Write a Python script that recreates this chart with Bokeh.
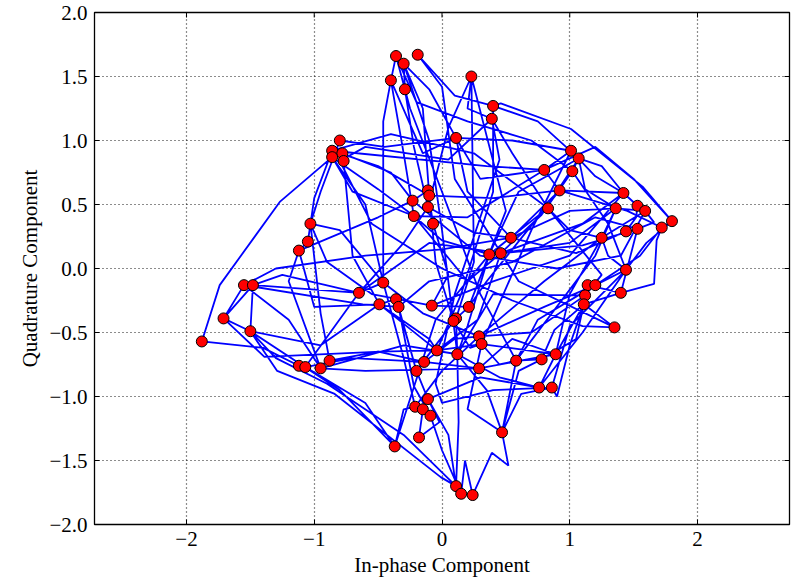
import math
from bokeh.plotting import figure
from bokeh.models import FixedTicker
from bokeh.embed import file_html
from bokeh.resources import INLINE

# Symbol samples (red dots): in-phase and quadrature
sym_i = [-0.36, -0.30, -0.19, -0.40, -0.29, 0.23, 0.40, 0.39, 0.11, -0.80,
         -0.86, -0.78, -0.86, -0.77, -0.11, -0.10, -0.23, -0.11, -0.22, -0.07,
         -1.03, -1.05, -1.12, 1.01, 1.07, 0.80, 1.02, 0.92, 1.42, 0.83,
         1.36, 1.53, 1.59, 1.80, 1.72, 1.53, 1.44, 1.25, 0.54, 0.37,
         0.46, 1.44, 1.14, 1.20, 1.12, 1.11, 1.40, 1.35, -1.55, -1.48,
         -1.71, -1.50, -1.88, -0.65, -0.46, -0.49, -0.36, -0.34, -0.08, 0.21,
         0.11, 0.09, 0.29, 0.31, -0.04, 0.12, -0.14, -0.20, 0.29, 0.58,
         0.78, 0.89, 0.76, 0.86, -1.12, -1.07, -0.95, -0.88, -0.11, -0.21,
         -0.15, -0.09, -0.18, -0.37, 0.47, 0.11, 0.15, 0.24]
sym_q = [1.66, 1.60, 1.67, 1.47, 1.40, 1.50, 1.27, 1.17, 1.02, 1.00,
         0.92, 0.90, 0.87, 0.84, 0.61, 0.57, 0.53, 0.48, 0.41, 0.35,
         0.35, 0.21, 0.14, 0.92, 0.86, 0.77, 0.76, 0.61, 0.59, 0.47,
         0.47, 0.49, 0.45, 0.37, 0.32, 0.31, 0.29, 0.24, 0.24, 0.11,
         0.12, -0.01, -0.13, -0.13, -0.21, -0.28, -0.19, -0.46, -0.13, -0.13,
         -0.39, -0.49, -0.57, -0.19, -0.11, -0.28, -0.24, -0.30, -0.29, -0.30,
         -0.39, -0.41, -0.53, -0.59, -0.64, -0.67, -0.73, -0.80, -0.78, -0.72,
         -0.71, -0.67, -0.93, -0.93, -0.76, -0.77, -0.78, -0.72, -1.02, -1.08,
         -1.10, -1.15, -1.32, -1.39, -1.28, -1.70, -1.76, -1.77]

# Signal trajectory (blue line): (in-phase, quadrature) vertices
path_points = [
    (-0.36, 1.66), (-0.40, 1.47), (-0.46, 1.15), (-0.46, -0.11), (-0.65, -0.19), (-1.25, -0.05),
    (-1.48, -0.13), (-1.50, -0.49), (-1.29, -0.80), (-0.84, -0.98), (-0.01, -1.63), (0.11, -1.70),
    (0.13, -1.20), (0.12, -0.67), (0.11, -0.39), (0.25, 0.05), (0.23, 1.50), (0.20, 1.25),
    (0.39, 1.17), (0.55, 0.90), (0.83, 0.47), (1.00, 0.30), (1.25, 0.24), (1.30, 0.10),
    (1.44, -0.01), (1.20, -0.13), (0.80, -0.30), (0.29, -0.53), (0.10, -0.55), (-0.14, -0.73),
    (-0.50, -0.65), (-0.88, -0.72), (-0.95, -0.35), (-1.03, 0.35), (-0.95, 0.60), (-0.80, 1.00),
    (-0.45, 0.95), (0.11, 1.02), (0.55, 1.00), (1.01, 0.92), (1.20, 0.72), (1.42, 0.59),
    (1.53, 0.49), (1.52, 0.40), (1.44, 0.29), (1.05, 0.12), (0.54, 0.24), (0.25, 0.28),
    (-0.11, 0.48), (-0.22, 0.95), (-0.29, 1.40), (-0.30, 1.60), (-0.15, 1.25), (-0.10, 0.57),
    (-0.05, 0.05), (0.09, -0.41), (0.22, -0.62), (0.31, -0.59), (0.45, -0.75), (0.58, -0.72),
    (0.78, -0.71), (0.88, -0.48), (1.11, -0.28), (1.00, -0.60), (0.90, -1.00), (0.86, -0.93),
    (0.62, -0.98), (0.47, -1.28), (0.52, -1.54), (0.39, -1.44), (0.24, -1.77), (0.18, -1.50),
    (0.15, -1.76), (0.00, -1.42), (-0.09, -1.15), (-0.22, -0.92), (-0.34, -0.30), (-0.62, -0.28),
    (-1.55, -0.13), (-1.71, -0.39), (-1.39, -0.69), (-0.48, -0.65), (-0.04, -0.64), (0.28, -0.40),
    (0.46, 0.12), (0.78, 0.42), (1.02, 0.76), (1.07, 0.86), (1.12, 0.62), (1.36, 0.47),
    (1.59, 0.45), (1.66, 0.36), (1.53, 0.31), (1.10, 0.18), (0.37, 0.11), (0.00, 0.22),
    (-0.22, 0.41), (-0.50, 0.62), (-0.86, 0.87), (-1.27, 0.52), (-1.74, -0.13), (-1.88, -0.57),
    (-1.40, -0.62), (-1.12, -0.76), (-1.07, -0.77), (-0.60, -1.05), (-0.37, -1.39), (-0.30, -1.10),
    (-0.21, -1.08), (-0.15, -1.10), (-0.18, -1.32), (-0.02, -1.20), (-0.11, -1.02), (-0.20, -0.80),
    (-0.30, -0.45), (-0.36, -0.24), (-0.49, -0.28), (-0.70, 0.10), (-0.77, 0.84), (-0.78, 0.90),
    (-0.40, 0.75), (-0.23, 0.53), (-0.11, 0.61), (-0.07, 0.35), (0.05, -0.05), (-0.08, -0.29),
    (0.21, -0.30), (0.35, -0.10), (0.92, 0.61), (0.80, 0.77), (0.35, 0.80), (-0.86, 0.92),
    (-1.00, 0.55), (-1.05, 0.21), (-1.12, 0.14), (-1.20, -0.10), (-0.95, -0.78), (-0.60, -0.80),
    (0.29, -0.78), (0.55, -0.55), (0.89, -0.67), (0.76, -0.93), (0.45, -0.85), (0.12, -0.67),
    (0.40, -0.20), (1.12, -0.21), (1.14, -0.13), (1.40, -0.19), (1.66, -0.12), (1.68, 0.22),
    (1.72, 0.32), (1.80, 0.37), (1.57, 0.64), (1.01, 1.09), (0.46, 1.29), (0.40, 1.27),
    (0.10, 1.35), (-0.19, 1.67), (0.00, 1.42), (0.10, 0.70), (0.60, -0.10), (1.35, -0.46),
    (1.10, -0.45), (0.55, -0.25), (0.00, 0.00), (-0.55, 0.35), (-0.80, 0.84), (-0.60, 0.95),
    (0.05, 0.85), (0.39, 1.17), (0.45, 0.85), (0.30, 0.40), (0.10, -0.20), (-0.05, -0.90),
    (0.00, -1.05), (0.40, -0.95), (0.86, -0.93), (1.00, -0.45), (1.44, -0.01), (1.30, 0.35),
    (1.02, 0.76), (0.70, 1.00), (0.20, 1.15), (-0.20, 1.30), (-0.36, 1.66), (-0.25, 1.25),
    (0.00, 0.60), (0.30, -0.20), (0.58, -0.72), (0.75, -0.40), (1.20, -0.13), (1.55, 0.10),
    (1.72, 0.32), (1.45, 0.45), (0.92, 0.61), (0.40, 0.55), (-0.10, 0.57), (-0.50, 0.80),
    (-0.86, 0.92), (-0.40, 1.05), (0.25, 0.90), (0.83, 0.47), (1.25, -0.05), (1.12, -0.21),
    (0.70, -0.50), (0.29, -0.53), (-0.15, -0.35), (-0.46, -0.11), (-0.80, 0.30), (-1.03, 0.35),
    (-0.90, 0.05), (-0.55, -0.20), (-0.08, -0.29), (0.40, -0.10), (1.00, 0.10), (1.42, 0.59),
    (1.25, 0.80), (1.07, 0.86), (0.60, 0.60), (0.37, 0.11), (0.20, -0.45), (0.12, -0.67),
    (-0.30, -0.60), (-0.95, -0.78), (-1.20, -0.40), (-1.55, -0.13), (-1.30, 0.00), (-0.60, 0.10),
    (0.00, 0.15), (0.54, 0.24), (1.00, 0.45), (1.36, 0.47), (1.00, 0.20), (0.46, 0.12),
    (0.20, -0.10), (-0.22, 0.41), (-0.30, 0.90), (-0.40, 1.47), (-0.15, 0.90), (0.11, 1.02),
    (0.30, 0.70), (0.80, 0.77), (1.01, 0.92), (0.70, 0.30), (0.31, -0.59), (0.20, -1.10),
    (0.47, -1.28), (0.60, -0.80), (0.78, -0.71), (1.05, -0.55), (1.11, -0.28), (1.40, -0.19),
    (1.53, 0.31), (1.20, 0.40), (0.55, 0.05), (-0.10, -0.10), (-0.34, -0.30), (-0.20, -0.80),
    (0.10, -0.40), (0.21, -0.30), (0.50, 0.45), (0.23, 1.50), (0.05, 1.10), (-0.11, 0.48),
    (-0.30, 0.20), (-0.65, -0.19), (-1.07, -0.77), (-0.70, -0.70), (-0.14, -0.73), (0.29, -0.78),
    (0.89, -0.67), (1.00, -0.20), (1.25, 0.24), (1.59, 0.45), (1.40, 0.10), (0.90, 0.00),
    (0.30, 0.10), (-0.23, 0.53), (-0.50, 0.40), (-1.12, 0.14), (-1.00, -0.30), (-0.49, -0.28),
    (-0.10, -0.55), (-0.04, -0.64), (0.15, -0.20), (0.40, 0.60), (0.40, 1.27),
    (0.75, 1.15), (1.07, 0.86), (0.80, 0.45), (0.37, 0.11), (-0.05, -0.40), (-0.37, -1.39),
    (-0.80, -0.95), (-1.50, -0.49), (-1.30, -0.70), (-0.90, -0.90), (-0.30, -1.30), (0.11, -1.70),
    (0.05, -1.30), (-0.11, -1.02), (0.30, -0.85), (0.76, -0.93), (1.10, -0.50), (1.44, -0.01),
    (1.60, 0.20), (1.80, 0.37), (1.50, 0.70), (1.20, 0.95), (0.80, 0.77), (0.20, 0.40),
    (-0.22, 0.41), (-0.70, 0.60), (-0.86, 0.87), (-0.60, 0.50), (-0.46, -0.11), (-0.30, -0.70),
    (-0.21, -1.08), (0.00, -0.80), (0.29, -0.53), (0.80, -0.10), (1.25, 0.24), (1.36, 0.47),
    (1.20, 0.10), (0.58, -0.72), (0.47, -1.28), (0.35, -0.95), (0.12, -0.67), (0.00, 0.30),
    (-0.10, 1.00), (-0.30, 1.60), (-0.10, 1.40), (0.11, 1.02), (0.20, 0.60), (0.54, 0.24),
    (0.92, 0.61), (1.42, 0.59), (1.10, 0.35), (0.46, 0.12), (-0.10, 0.20), (-0.65, -0.19),
    (-1.48, -0.13), (-1.71, -0.39), (-1.50, -0.49), (-0.95, -0.60), (-0.49, -0.28), (-0.04, -0.64),
    (0.31, -0.59), (0.89, -0.67), (1.11, -0.28), (1.35, -0.46),
]
path_i = [pt[0] for pt in path_points]
path_q = [pt[1] for pt in path_points]

x_ticks = [-2, -1, 0, 1, 2]
x_tick_labels = ["\u22122", "\u22121", "0", "1", "2"]
y_ticks = [-2.0, -1.5, -1.0, -0.5, 0.0, 0.5, 1.0, 1.5, 2.0]
y_tick_labels = ["\u22122.0", "\u22121.5", "\u22121.0", "\u22120.5", "0.0", "0.5", "1.0", "1.5", "2.0"]

X_RANGE = (-2.72, 2.72)
Y_RANGE = (-2.0, 2.0)

FONT = "Liberation Serif"
FS = "21px"

p = figure(width=800, height=581, x_range=X_RANGE, y_range=Y_RANGE,
           output_backend="svg", toolbar_location=None,
           min_border_left=94, min_border_right=11, min_border_top=12, min_border_bottom=57,
           background_fill_color="white", border_fill_color="white")

p.outline_line_color = "black"
p.outline_line_width = 1.3

for ax, ticks, labels in ((p.xaxis[0], x_ticks, x_tick_labels), (p.yaxis[0], y_ticks, y_tick_labels)):
    ax.ticker = FixedTicker(ticks=ticks)
    ax.major_label_overrides = {t: l for t, l in zip(ticks, labels)}
    ax.major_tick_in = 5
    ax.major_tick_out = 0
    ax.minor_tick_line_color = None
    ax.axis_line_color = "black"
    ax.major_label_text_font = FONT
    ax.major_label_text_font_size = FS
    ax.major_label_text_color = "black"
    ax.axis_label_text_font = FONT
    ax.axis_label_text_font_size = FS
    ax.axis_label_text_font_style = "normal"
    ax.axis_label_text_color = "black"
    ax.major_label_standoff = 7
    ax.axis_label_standoff = 4

p.xaxis[0].axis_label = "In-phase Component"
p.yaxis[0].axis_label = "Quadrature Component"

p.xgrid[0].ticker = FixedTicker(ticks=x_ticks)
p.ygrid[0].ticker = FixedTicker(ticks=y_ticks)
for g in (p.xgrid[0], p.ygrid[0]):
    g.grid_line_color = "black"
    g.grid_line_dash = "1 3"
    g.grid_line_width = 1.2
    g.grid_line_alpha = 0.9

p.line(path_i, path_q, line_color="#0000ff", line_width=1.8)
p.scatter(sym_i, sym_q, size=11, fill_color="#ff0000", line_color="black", line_width=1)

# inward ticks on the top and right frame edges (dash markers clipped by the frame)
p.scatter(x_ticks, [Y_RANGE[1]] * len(x_ticks), marker="dash", angle=math.pi / 2,
          size=10, line_color="black", line_width=1)
p.scatter([X_RANGE[1]] * len(y_ticks), y_ticks, marker="dash",
          size=10, line_color="black", line_width=1)

open("out.html", "w").write(file_html(p, INLINE))
